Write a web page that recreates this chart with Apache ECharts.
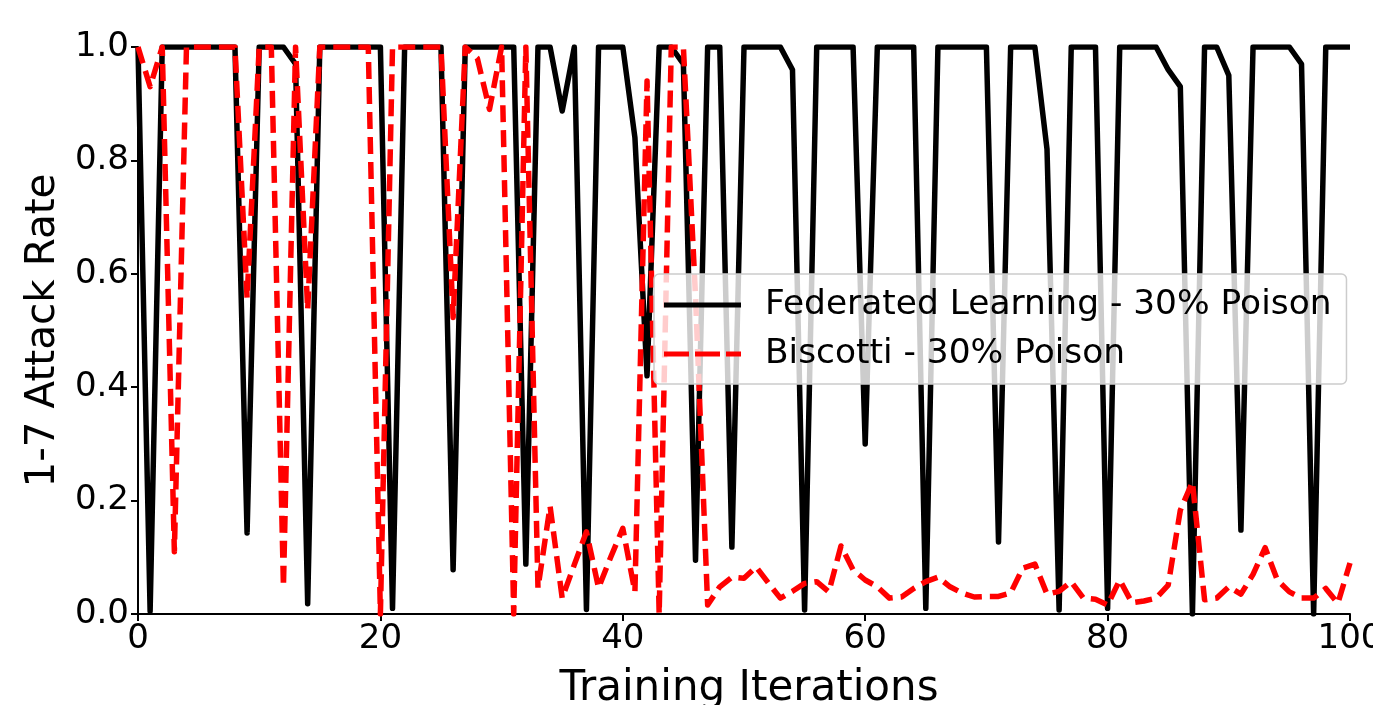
<!DOCTYPE html>
<html>
<head>
<meta charset="utf-8">
<style>
html,body{margin:0;padding:0;background:#fff;overflow:hidden;}
#chart{width:1373px;height:705px;}
</style>
<script src="https://cdn.jsdelivr.net/npm/echarts@6/dist/echarts.min.js"></script>
</head>
<body>
<div id="chart"></div>
<script>
// Training iteration index (0..100)
const iterations = [];
for (let i = 0; i <= 100; i++) iterations.push(i);

// Federated Learning - 30% Poison (black solid)
const fedLearning = [
  1.0, 0.005, 1.0, 1.0, 1.0, 1.0, 1.0, 1.0, 1.0, 0.143,
  1.0, 1.0, 1.0, 0.97, 0.018, 1.0, 1.0, 1.0, 1.0, 1.0,
  1.0, 0.01, 1.0, 1.0, 1.0, 1.0, 0.078, 1.0, 1.0, 1.0,
  1.0, 1.0, 0.088, 1.0, 1.0, 0.887, 1.0, 0.008, 1.0, 1.0,
  1.0, 0.84, 0.42, 1.0, 1.0, 0.97, 0.095, 1.0, 1.0, 0.118,
  1.0, 1.0, 1.0, 1.0, 0.96, 0.007, 1.0, 1.0, 1.0, 1.0,
  0.30, 1.0, 1.0, 1.0, 1.0, 0.01, 1.0, 1.0, 1.0, 1.0,
  1.0, 0.127, 1.0, 1.0, 1.0, 0.82, 0.007, 1.0, 1.0, 1.0,
  0.01, 1.0, 1.0, 1.0, 1.0, 0.96, 0.93, 0.0, 1.0, 1.0,
  0.95, 0.148, 1.0, 1.0, 1.0, 1.0, 0.97, 0.0, 1.0, 1.0,
  1.0
];

// Biscotti - 30% Poison (red dashed)
const biscotti = [
  1.0, 0.93, 1.0, 0.11, 1.0, 1.0, 1.0, 1.0, 1.0, 0.557,
  1.0, 1.0, 0.048, 1.0, 0.537, 1.0, 1.0, 1.0, 1.0, 1.0,
  0.0, 1.0, 1.0, 1.0, 1.0, 1.0, 0.523, 1.0, 0.98, 0.89,
  1.0, 0.0, 1.0, 0.046, 0.19, 0.028, 0.087, 0.145, 0.046, 0.10,
  0.151, 0.039, 0.94, 0.0, 1.0, 1.0, 0.56, 0.016, 0.048, 0.065,
  0.063, 0.083, 0.055, 0.028, 0.04, 0.054, 0.057, 0.039, 0.12, 0.078,
  0.06, 0.048, 0.028, 0.03, 0.045, 0.057, 0.065, 0.048, 0.037, 0.03,
  0.031, 0.031, 0.037, 0.081, 0.088, 0.035, 0.04, 0.057, 0.028, 0.026,
  0.016, 0.06, 0.02, 0.023, 0.028, 0.051, 0.183, 0.233, 0.025, 0.028,
  0.048, 0.035, 0.07, 0.117, 0.06, 0.039, 0.028, 0.028, 0.045, 0.019,
  0.09
];

const seriesNames = ['Federated Learning - 30% Poison', 'Biscotti - 30% Poison'];
const xTicks = [0, 20, 40, 60, 80, 100];
const yTicks = [0.0, 0.2, 0.4, 0.6, 0.8, 1.0];
const xTitle = 'Training Iterations';
const yTitle = '1-7 Attack Rate';

const FONT = '"DejaVu Sans", sans-serif';
const chart = echarts.init(document.getElementById('chart'), null, {renderer: 'canvas'});

const pairs = (vals) => iterations.map((x, i) => [x, vals[i]]);

const solidIcon = 'path://M0,0H77V5H0Z';
const dashIcon = 'path://M0,0H25V5H0Z M31,0H56V5H31Z M62,0H77V5H62Z';

chart.setOption({
  animation: false,
  backgroundColor: '#ffffff',
  grid: {left: 138, right: 23, top: 47, bottom: 91, containLabel: false, outerBoundsMode: 'none'},
  xAxis: {
    type: 'value', min: xTicks[0], max: xTicks[xTicks.length - 1], interval: 20,
    name: xTitle, nameLocation: 'middle', nameGap: 54,
    nameTextStyle: {fontFamily: FONT, fontSize: 42, color: '#000', padding: [0, 0, 0, 10]},
    axisLine: {show: true, onZero: false, lineStyle: {color: '#000', width: 2}},
    axisTick: {show: true, length: 7, inside: false, lineStyle: {color: '#000', width: 2}},
    axisLabel: {fontFamily: FONT, fontSize: 34, color: '#000', margin: 8, showMaxLabel: true},
    splitLine: {show: false}
  },
  yAxis: {
    type: 'value', min: yTicks[0], max: yTicks[yTicks.length - 1], interval: 0.2,
    name: yTitle, nameLocation: 'middle', nameGap: 70, nameRotate: 90,
    nameTextStyle: {fontFamily: FONT, fontSize: 40.5, color: '#000'},
    axisLine: {show: true, lineStyle: {color: '#000', width: 2}},
    axisTick: {show: true, length: 7, inside: false, lineStyle: {color: '#000', width: 2}},
    axisLabel: {fontFamily: FONT, fontSize: 34, color: '#000', margin: 9,
      formatter: (v) => v.toFixed(1)},
    splitLine: {show: false}
  },
  legend: {
    show: true, orient: 'vertical', left: 654, top: 274,
    data: [
      {name: seriesNames[0], icon: solidIcon},
      {name: seriesNames[1], icon: dashIcon}
    ],
    itemWidth: 77, itemHeight: 5, itemGap: 15,
    padding: [14, 15, 13, 10],
    backgroundColor: 'rgba(255,255,255,0.8)',
    borderColor: '#cccccc', borderWidth: 1.5, borderRadius: 5,
    textStyle: {fontFamily: FONT, fontSize: 34.4, color: '#000', lineHeight: 34, padding: [0, 0, 0, 19]}
  },
  series: [
    {
      name: seriesNames[0], type: 'line', data: pairs(fedLearning),
      showSymbol: false, symbol: 'none',
      lineStyle: {color: '#000000', width: 5.5, type: 'solid', join: 'round', cap: 'butt'},
      itemStyle: {color: '#000000'},
      z: 2
    },
    {
      name: seriesNames[1], type: 'line', data: pairs(biscotti),
      showSymbol: false, symbol: 'none',
      lineStyle: {color: '#ff0000', width: 5.5, type: [17, 8], join: 'round', cap: 'butt'},
      itemStyle: {color: '#ff0000'},
      z: 3
    }
  ]
});
</script>
</body>
</html>
